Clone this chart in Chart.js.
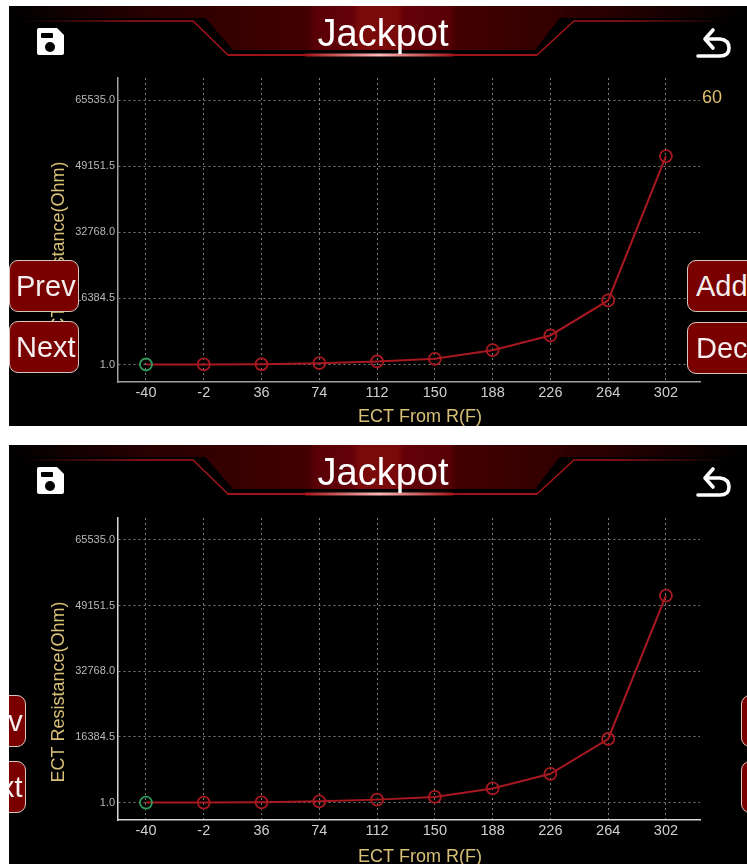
<!DOCTYPE html>
<html>
<head>
<meta charset="utf-8">
<script src="https://cdn.jsdelivr.net/npm/chart.js@4/dist/chart.umd.min.js"></script>
<style>
html, body { margin: 0; padding: 0; background: #fff; }
body { width: 747px; height: 864px; position: relative; overflow: hidden; font-family: "Liberation Sans", Arial, sans-serif; }
.panel { position: absolute; left: 9px; width: 738px; background: #000; overflow: hidden; }
#p1 { top: 6px; height: 420px; }
#p2 { top: 445px; height: 419px; }
.panel canvas { position: absolute; left: 0; top: 0; }
#c2 { top: 1px; }
.head { position: absolute; left: 0; top: 0; }
.title { position: absolute; left: 0; width: 748px; top: 2px; text-align: center; color: #fff; font-size: 38px; line-height: 50px; }
.btn { position: absolute; width: 70px; height: 52px; box-sizing: border-box; background: #7a0000; border: 1px solid #d8c8c0; border-radius: 9px; color: #f4eeee; font-size: 29px; line-height: 50px; padding-left: 6px; white-space: nowrap; overflow: hidden; }
.btn.right { padding-left: 8px; }
.val { position: absolute; left: 693px; top: 81px; color: #e0c070; font-size: 18px; }
</style>
</head>
<body>
<div class="panel" id="p1"><canvas id="c1" width="738" height="420"></canvas></div>
<div class="panel" id="p2"><canvas id="c2" width="738" height="418"></canvas></div>
<script>
const temps = [-40, -2, 36, 74, 112, 150, 188, 226, 264, 302];
const resistance = [1, 20, 60, 320, 745, 1410, 3540, 7190, 15870, 51640];
const yTicks = [1, 16384.5, 32768, 49151.5, 65535];
const xTitle = 'ECT From R(F)';
const yTitle = 'ECT Resistance(Ohm)';
const heading = 'Jackpot';
const currentValue = '60';

const RED = '#a81820', GREEN = '#2f9a5a', TAN = '#d8c078', GRID = '#7c7c7c';

// svg for the header, same for both panels
const headSvg = `<svg class="head" width="738" height="70" xmlns="http://www.w3.org/2000/svg">
<defs>
<linearGradient id="bar" x1="0" x2="1" y1="0" y2="0">
<stop offset="0" stop-color="#000"/><stop offset=".2" stop-color="#2a0000"/>
<stop offset=".5" stop-color="#3a0000"/><stop offset=".8" stop-color="#2a0000"/><stop offset="1" stop-color="#000"/>
</linearGradient>
<linearGradient id="mid" x1="0" x2="1" y1="0" y2="0">
<stop offset="0" stop-color="#300000"/><stop offset=".3" stop-color="#420000"/><stop offset=".32" stop-color="#580006"/>
<stop offset=".42" stop-color="#640008"/><stop offset=".44" stop-color="#7a0a0a"/><stop offset=".54" stop-color="#7a0a0a"/>
<stop offset=".56" stop-color="#640008"/><stop offset=".68" stop-color="#580006"/><stop offset=".7" stop-color="#420000"/><stop offset="1" stop-color="#300000"/>
</linearGradient>
<linearGradient id="edgeL" x1="0" x2="1" y1="0" y2="0"><stop offset="0" stop-color="#000"/><stop offset=".4" stop-color="#a01418"/><stop offset="1" stop-color="#a01418"/></linearGradient>
<linearGradient id="edgeR" x1="0" x2="1" y1="0" y2="0"><stop offset="0" stop-color="#a01418"/><stop offset=".6" stop-color="#a01418"/><stop offset="1" stop-color="#000"/></linearGradient>
<linearGradient id="glow" x1="0" x2="1" y1="0" y2="0"><stop offset="0" stop-color="#a01418"/><stop offset=".5" stop-color="#ffb8b8"/><stop offset="1" stop-color="#a01418"/></linearGradient>
</defs>
<rect x="0" y="0" width="738" height="12" fill="url(#bar)"/>
<polygon points="0,14 184,14 220,49 528,49 565,14 738,14 738,70 0,70" fill="#000"/>
<polygon points="186,0 560,0 526,44 224,44" fill="url(#mid)"/>
<path d="M12 15 H184 L219 49 H300" fill="none" stroke="url(#edgeL)" stroke-width="1.5"/>
<path d="M450 49 H528 L565 15 H719" fill="none" stroke="url(#edgeR)" stroke-width="1.5"/>
<rect x="219" y="48" width="309" height="2" fill="#a01418"/>
<rect x="296" y="47.5" width="148" height="3" fill="url(#glow)"/>
<path d="M30 22 H48 L55 29 V47 Q55 49 53 49 H30 Q28 49 28 47 V24 Q28 22 30 22 Z" fill="#fff"/>
<rect x="32" y="27" width="12" height="5" rx="1" fill="#000"/>
<circle cx="41" cy="41" r="5" fill="#000"/>
<path d="M704 24 L696 33 L704 42" fill="none" stroke="#fff" stroke-width="3.6" stroke-linejoin="round" stroke-linecap="round"/>
<path d="M698 33 H711 Q720 34 720 42 Q720 50 711 50 H689" fill="none" stroke="#fff" stroke-width="3.6" stroke-linecap="round"/>
</svg>`;

function addChrome(id, buttons) {
  const p = document.getElementById(id);
  p.insertAdjacentHTML('beforeend', headSvg + `<div class="title">${heading}</div>`);
  buttons.forEach(b => {
    const cls = b[1] > 300 ? 'btn right' : 'btn';
    p.insertAdjacentHTML('beforeend', `<div class="${cls}" style="left:${b[1]}px;top:${b[2]}px">${b[0]}</div>`);
  });
}

// axis captions sit off centre in the original, so the native title can't be used
const captions = {
  id: 'captions',
  afterDraw(chart) {
    const c = chart.ctx;
    c.save();
    c.fillStyle = TAN;
    c.font = '18px "Liberation Sans"';
    c.textAlign = 'center';
    c.textBaseline = 'middle';
    c.fillText(xTitle, 411, 411);
    c.translate(50, 246);
    c.rotate(-Math.PI / 2);
    c.fillText(yTitle, 0, 0);
    c.restore();
  }
};

function makeChart(id, axisColor) {
  return new Chart(document.getElementById(id), {
    type: 'line',
    data: {
      datasets: [{
        data: temps.map((t, i) => ({ x: t, y: resistance[i] })),
        borderColor: RED,
        borderWidth: 2,
        tension: 0,
        fill: false,
        pointRadius: 6,
        pointBorderWidth: 1.8,
        pointBackgroundColor: 'transparent',
        pointBorderColor: ctx => ctx.dataIndex === 0 ? GREEN : RED
      }]
    },
    options: {
      responsive: false,
      animation: false,
      devicePixelRatio: 1,
      layout: { padding: { top: 72, right: 47 } },
      plugins: { legend: { display: false }, tooltip: { enabled: false } },
      scales: {
        x: {
          type: 'linear',
          min: -58.4,
          max: 324.4,
          afterBuildTicks: s => { s.ticks = temps.map(v => ({ value: v })); },
          afterFit: s => { s.height = 44; },
          border: { color: axisColor, width: 1.5, dash: [2, 3] },
          grid: { color: GRID, lineWidth: 1, drawTicks: false },
          ticks: {
            color: '#cfcfcf', padding: 2, maxRotation: 0, autoSkip: false,
            font: { family: 'Liberation Sans', size: 14.5 },
            callback: v => String(v)
          }
        },
        y: {
          min: -4337,
          max: 70989,
          afterBuildTicks: s => { s.ticks = yTicks.map(v => ({ value: v })); },
          afterFit: s => { s.width = 109; },
          border: { color: axisColor, width: 1.5, dash: [2, 3] },
          grid: { color: GRID, lineWidth: 1, drawTicks: false },
          ticks: {
            color: '#b8b8b8', padding: 3, autoSkip: false,
            font: { family: 'Liberation Sans', size: 11 },
            callback: v => v.toFixed(1)
          }
        }
      }
    },
    plugins: [captions]
  });
}

makeChart('c1', '#a0a0a0');
makeChart('c2', '#d8d8d8');

addChrome('p1', [['Prev', 0, 254], ['Next', 0, 315], ['Add', 678, 254], ['Dec', 678, 316]]);
addChrome('p2', [['Prev', -53, 250], ['Next', -53, 316], ['Add', 732, 250], ['Dec', 732, 316]]);
document.getElementById('p1').insertAdjacentHTML('beforeend', `<div class="val">${currentValue}</div>`);
</script>
</body>
</html>
